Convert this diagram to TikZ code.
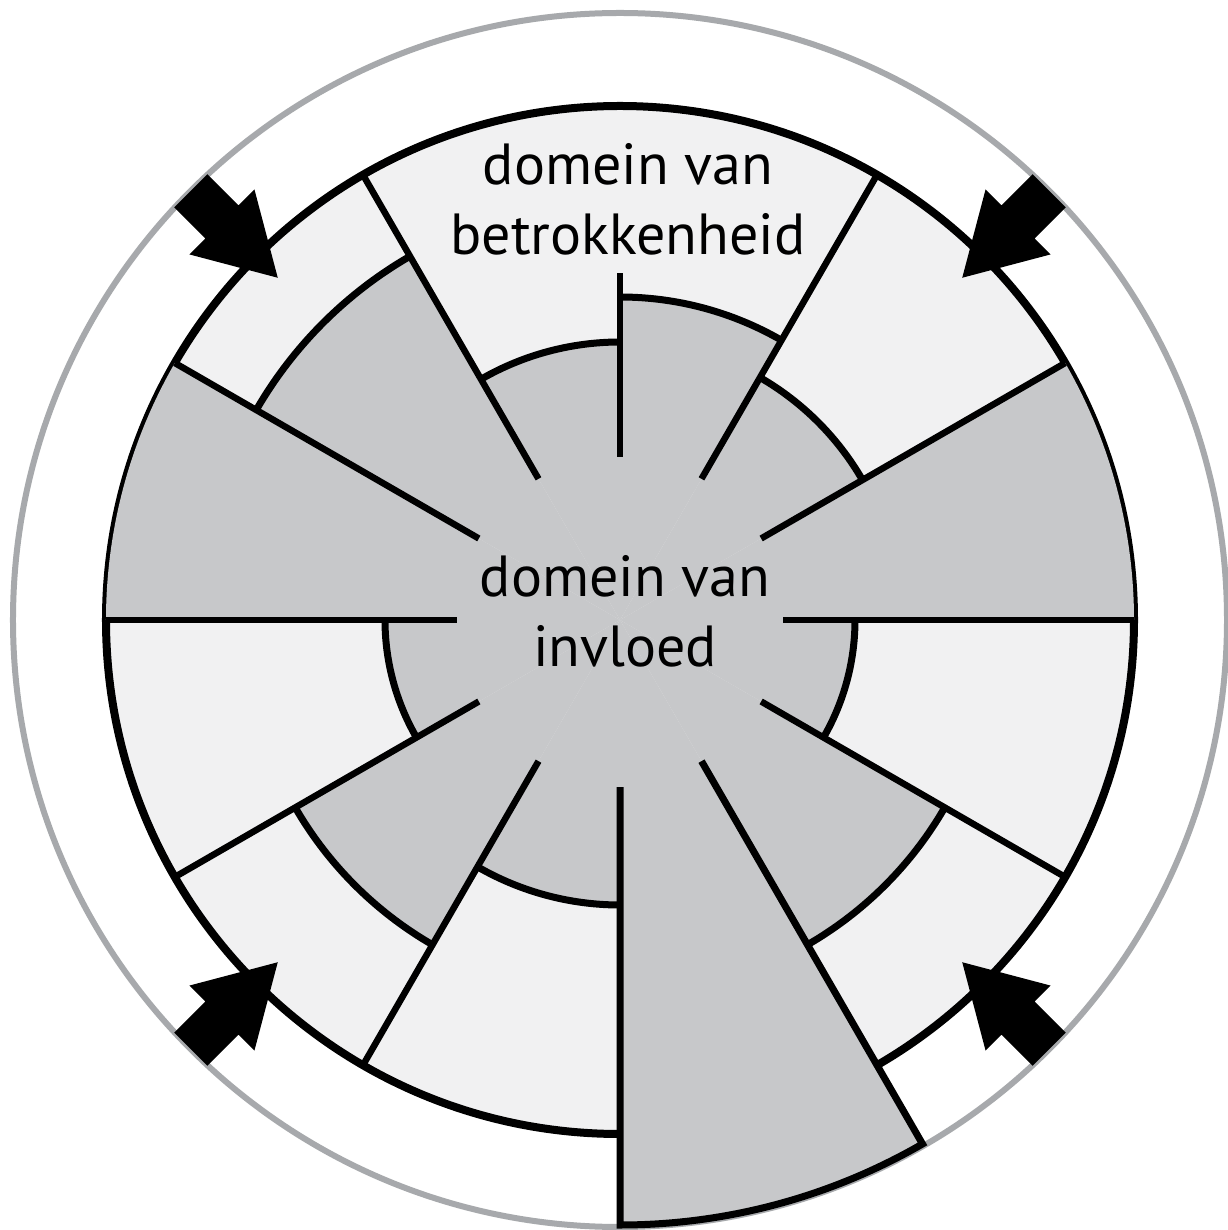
\documentclass[tikz,border=0pt]{standalone}
\usepackage{fontspec}
\setmainfont{PT Sans}
\usepackage{xcolor}
\usepackage{tikz}
\usetikzlibrary{calc}
\definecolor{palegray}{RGB}{241,241,242}
\definecolor{zonegray}{RGB}{199,200,202}
\definecolor{ringgray}{RGB}{167,169,172}
\tikzset{
  ring/.style={draw=ringgray, line width=0.6mm},
  rim/.style={draw=black, line width=0.8mm},
  zonefill/.style={fill=zonegray},
  zoneedge/.style={draw=black, line width=0.7mm},
  spoke/.style={draw=black, line width=0.65mm},
  pusharrow/.style={fill=black},
  domainlabel/.style={align=center, inner sep=0pt,
    font=\fontsize{16.5}{19.9}\selectfont}
}

\begin{document}
\begin{tikzpicture}
\useasboundingbox[fill=white] (-6.20,-6.10) rectangle (6.07,6.20);
\draw[ring] (0,0) circle (6.07);
\fill[palegray] (0,0) circle (5.14);
\draw[rim] (0,0) circle (5.14);
\foreach \a/\r in {0/5.14,30/2.80,60/3.23,90/2.78,120/4.20,150/5.14,
  180/2.35,210/3.75,240/2.85,270/6.05,300/3.75,330/2.35}
  \fill[zonefill] (0,0) -- (\a:\r) arc[start angle=\a, end angle=\a+30, radius=\r] -- cycle;
\foreach \a/\r in {30/2.80,60/3.23,90/2.78,120/4.20,
  180/2.35,210/3.75,240/2.85,300/3.75,330/2.35}
  \draw[zoneedge] (\a:\r) arc[start angle=\a, end angle=\a+30, radius=\r];
\foreach \a in {0,30,60,120,150,180,210,240,330}
  \draw[spoke] (\a:1.63) -- (\a:5.14);
\draw[spoke] (90:1.63) -- (90:3.47);
\draw[zoneedge] (270:1.67) -- (270:6.05)
  arc[start angle=270, end angle=300, radius=6.05] -- (300:1.63);
\foreach \a in {45,135,225,315}
  \fill[pusharrow, rotate=\a] (6.07,0.235) -- (5.63,0.235) -- (5.63,0.46)
    -- (4.84,0) -- (5.63,-0.46) -- (5.63,-0.235) -- (6.07,-0.235) -- cycle;
\node[domainlabel] (invloed) at (0.05,0.09) {domein van\\invloed};
\node[domainlabel] (betrokkenheid) at (0.08,4.21) {domein van\\betrokkenheid};
\end{tikzpicture}
\end{document}
